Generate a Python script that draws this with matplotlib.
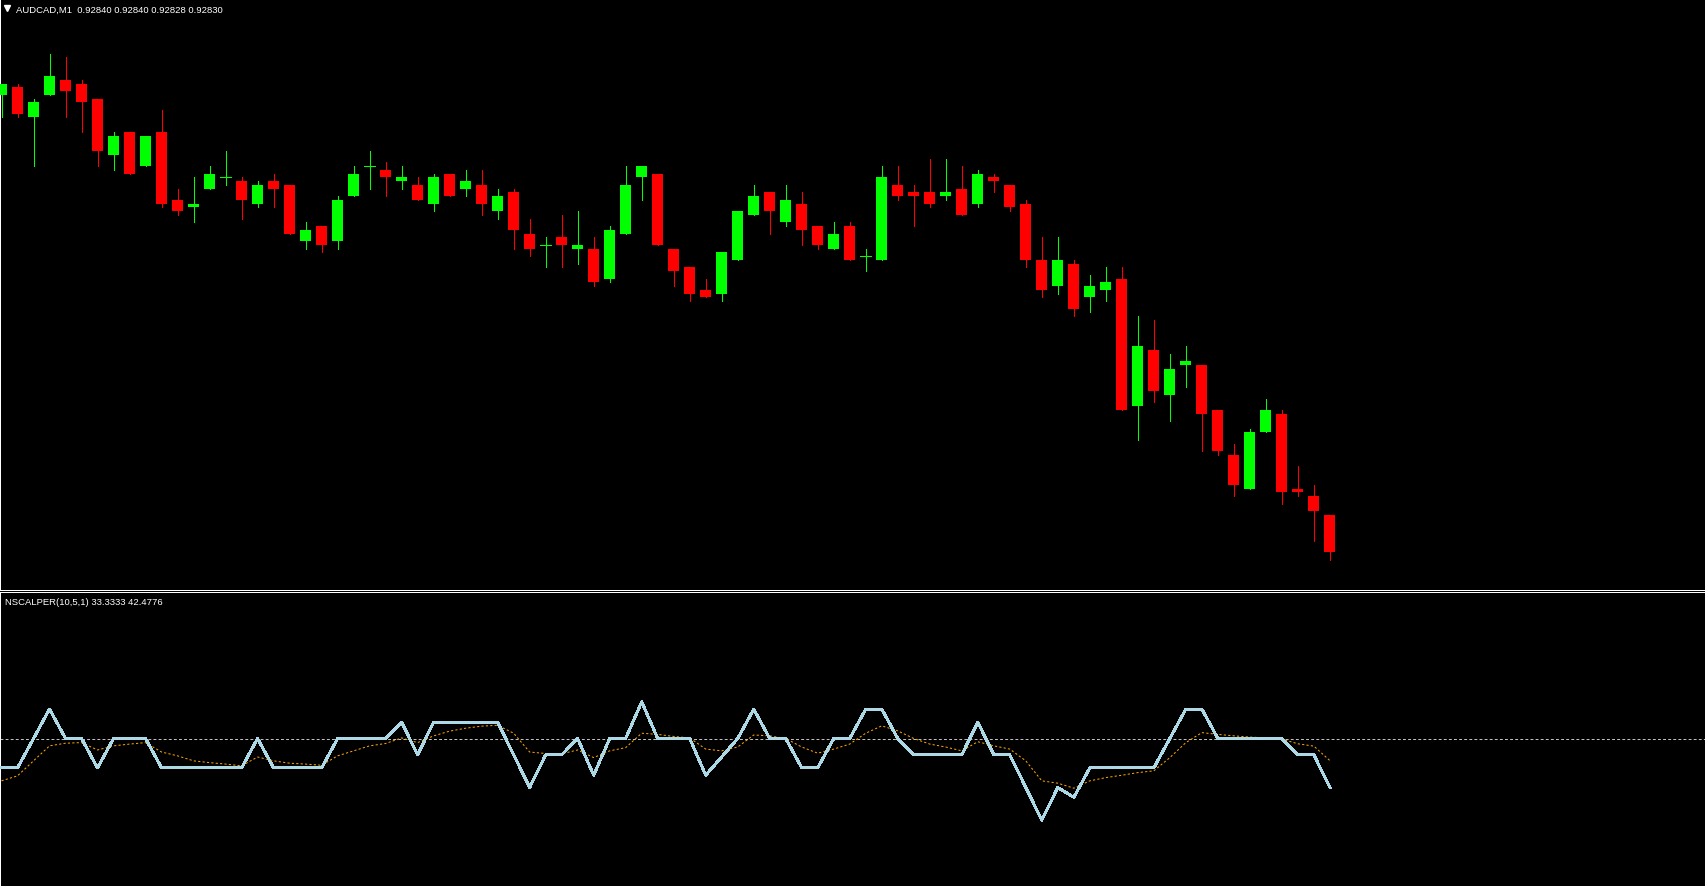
import matplotlib
matplotlib.use("Agg")
from matplotlib import pyplot as plt
from matplotlib.lines import Line2D
import numpy as np

# AUDCAD M1 candles, oldest first
opens = [0.92952, 0.92954, 0.92946, 0.92952, 0.92956, 0.92955, 0.92951, 0.92936, 0.92942, 0.92933,
         0.92942, 0.92924, 0.92922, 0.92927, 0.92930, 0.92929, 0.92923, 0.92929, 0.92928, 0.92913,
         0.92917, 0.92913, 0.92925, 0.92933, 0.92932, 0.92929, 0.92928, 0.92923, 0.92931, 0.92927,
         0.92928, 0.92921, 0.92926, 0.92915, 0.92912, 0.92914, 0.92911, 0.92911, 0.92903, 0.92915,
         0.92930, 0.92931, 0.92911, 0.92906, 0.92900, 0.92899, 0.92908, 0.92920, 0.92926, 0.92918,
         0.92923, 0.92917, 0.92911, 0.92917, 0.92909, 0.92908, 0.92928, 0.92926, 0.92926, 0.92925,
         0.92927, 0.92923, 0.92930, 0.92928, 0.92923, 0.92908, 0.92901, 0.92907, 0.92898, 0.92900,
         0.92903, 0.92869, 0.92884, 0.92872, 0.92880, 0.92880, 0.92868, 0.92856, 0.92847, 0.92862,
         0.92867, 0.92847, 0.92845, 0.92840]
highs = [0.92955, 0.92955, 0.92951, 0.92963, 0.92962, 0.92956, 0.92951, 0.92942, 0.92942, 0.92941,
         0.92948, 0.92927, 0.92930, 0.92933, 0.92937, 0.92930, 0.92929, 0.92931, 0.92928, 0.92918,
         0.92917, 0.92925, 0.92933, 0.92937, 0.92934, 0.92933, 0.92930, 0.92931, 0.92931, 0.92932,
         0.92932, 0.92927, 0.92927, 0.92919, 0.92914, 0.92920, 0.92921, 0.92914, 0.92917, 0.92933,
         0.92933, 0.92931, 0.92911, 0.92906, 0.92903, 0.92910, 0.92921, 0.92928, 0.92926, 0.92928,
         0.92926, 0.92917, 0.92918, 0.92918, 0.92911, 0.92933, 0.92933, 0.92928, 0.92935, 0.92935,
         0.92933, 0.92932, 0.92931, 0.92928, 0.92924, 0.92914, 0.92914, 0.92908, 0.92904, 0.92906,
         0.92906, 0.92893, 0.92892, 0.92883, 0.92885, 0.92880, 0.92868, 0.92859, 0.92863, 0.92871,
         0.92868, 0.92853, 0.92848, 0.92840]
lows = [0.92946, 0.92946, 0.92933, 0.92952, 0.92946, 0.92942, 0.92933, 0.92932, 0.92931, 0.92933,
        0.92922, 0.92920, 0.92918, 0.92927, 0.92928, 0.92919, 0.92922, 0.92922, 0.92915, 0.92911,
        0.92910, 0.92911, 0.92925, 0.92927, 0.92925, 0.92927, 0.92924, 0.92921, 0.92925, 0.92925,
        0.92920, 0.92919, 0.92911, 0.92909, 0.92906, 0.92906, 0.92907, 0.92901, 0.92902, 0.92915,
        0.92924, 0.92912, 0.92901, 0.92897, 0.92898, 0.92897, 0.92908, 0.92920, 0.92915, 0.92917,
        0.92912, 0.92911, 0.92911, 0.92908, 0.92905, 0.92908, 0.92924, 0.92917, 0.92922, 0.92924,
        0.92920, 0.92922, 0.92926, 0.92921, 0.92906, 0.92898, 0.92899, 0.92893, 0.92894, 0.92897,
        0.92868, 0.92860, 0.92870, 0.92865, 0.92874, 0.92857, 0.92856, 0.92845, 0.92847, 0.92862,
        0.92843, 0.92845, 0.92833, 0.92828]
closes = [0.92955, 0.92947, 0.92950, 0.92957, 0.92953, 0.92950, 0.92937, 0.92941, 0.92931, 0.92941,
          0.92923, 0.92921, 0.92923, 0.92931, 0.92930, 0.92924, 0.92928, 0.92927, 0.92915, 0.92916,
          0.92912, 0.92924, 0.92931, 0.92933, 0.92930, 0.92930, 0.92924, 0.92930, 0.92925, 0.92929,
          0.92923, 0.92925, 0.92916, 0.92911, 0.92912, 0.92912, 0.92912, 0.92902, 0.92916, 0.92928,
          0.92933, 0.92912, 0.92905, 0.92899, 0.92898, 0.92910, 0.92921, 0.92925, 0.92921, 0.92924,
          0.92916, 0.92912, 0.92915, 0.92908, 0.92909, 0.92930, 0.92925, 0.92925, 0.92923, 0.92926,
          0.92920, 0.92931, 0.92929, 0.92922, 0.92908, 0.92900, 0.92908, 0.92895, 0.92901, 0.92902,
          0.92868, 0.92885, 0.92873, 0.92879, 0.92881, 0.92867, 0.92857, 0.92848, 0.92862, 0.92868,
          0.92846, 0.92846, 0.92841, 0.92830]

# NSCALPER(10,5,1) main line and its signal line
nscalper = [40, 40, 50, 60, 50, 50, 40, 50, 50, 50,
            40, 40, 40, 40, 40, 40, 50, 40, 40, 40,
            40, 50, 50, 50, 50, 55.5556, 44.4444, 55.5556, 55.5556, 55.5556,
            55.5556, 55.5556, 44.4444, 33.3333, 44.4444, 44.4444, 50, 37.5, 50, 50,
            62.5, 50, 50, 50, 37.5, 43.75, 50, 60, 50, 50,
            40, 40, 50, 50, 60, 60, 50, 44.4444, 44.4444, 44.4444,
            44.4444, 55.5556, 44.4444, 44.4444, 33.3333, 22.2222, 33.3333, 30, 40, 40,
            40, 40, 40, 50, 60, 60, 50, 50, 50, 50,
            50, 44.4444, 44.4444, 33.3333]
signal = [35.6, 37.3, 42.4, 47.5, 48.4, 48.6, 46.1, 47.5, 48.1, 48.6,
          45.4, 44.1, 42.4, 41.8, 41.3, 40.7, 43.7, 42.4, 41.6, 41.3,
          40.9, 44.1, 45.8, 47.5, 48.3, 50.2, 48.6, 50.9, 52.5, 53.5,
          54.2, 54.5, 51.8, 45.4, 44.9, 44.8, 46.1, 43.5, 45.8, 46.9,
          51.8, 51.4, 50.7, 50.2, 46.4, 45.8, 47.1, 51.2, 50.9, 50.0,
          47.1, 45.0, 46.4, 48.1, 51.8, 54.3, 52.6, 50.0, 48.1, 47.1,
          45.8, 48.9, 47.5, 46.4, 42.4, 35.6, 34.8, 33.1, 35.6, 36.7,
          37.5, 38.4, 39.0, 43.5, 48.6, 52.0, 51.4, 50.9, 50.5, 50.2,
          49.8, 48.2, 47.4, 42.4776]
level = 50

W, H = 1706, 887
px = 0.72  # one pixel in points at dpi 100

fig = plt.figure(figsize=(W / 100, H / 100), dpi=100, facecolor="black")
ax = fig.add_axes([0.5 / W, 1 - 590.5 / H, 1, 590.5 / H])
ax2 = fig.add_axes([0.5 / W, 1 - 886.5 / H, 1, (886.5 - 592.5) / H])

x = np.arange(len(opens))
o = np.array(opens)
c = np.array(closes)
bull = c >= o
cols = np.where(bull, "#00FF00", "#FF0000")

ax.vlines(x, lows, highs, colors=cols, lw=px, antialiased=False, zorder=2)
body = np.abs(c - o)
ax.bar(x, body, bottom=np.minimum(o, c), width=11 / 16, color=cols,
       linewidth=0, antialiased=False, zorder=3)
doji = body == 0
ax.hlines(o[doji], x[doji] - 5.5 / 16, x[doji] + 5.5 / 16, colors=cols[doji],
          lw=px, antialiased=False, zorder=3)

xlim = (-1.0 / 16, (W - 1.5) / 16)
ax.set_xlim(xlim)
ax.set_ylim(0.9282008, 0.9297755)

ax2.plot(x, nscalper, color="#ADD8E6", lw=2 * px, antialiased=False, zorder=3)
ax2.plot(x, signal, color="#FFA500", lw=px, ls=(0, (2.2, 2.2)), zorder=2)
ax2.axhline(level, color="#C0C0C0", lw=px, ls=(0, (2.9, 2.2)), zorder=1)
ax2.set_xlim(xlim)
ax2.set_ylim(0, 100)

for a in (ax, ax2):
    a.set_facecolor("black")
    a.set_xticks([])
    a.set_yticks([])
    for s in a.spines.values():
        s.set_color("white")
        s.set_linewidth(px)
        s.set_antialiased(False)
    a.spines["right"].set_visible(False)
ax.spines["top"].set_visible(False)
ax2.spines["bottom"].set_visible(False)

fig.add_artist(Line2D([7.5 / W], [1 - 8.7 / H], marker="v", ms=5, color="white",
                      lw=0, transform=fig.transFigure))
head = "AUDCAD,M1  %.5f %.5f %.5f %.5f" % (opens[-1], highs[-1], lows[-1], closes[-1])
fig.text(16 / W, 1 - 12.5 / H, head, color="white", fontsize=6.8,
         family="Liberation Sans", va="baseline", ha="left")
lab = "NSCALPER(10,5,1) %.4f %.4f" % (nscalper[-1], signal[-1])
fig.text(5 / W, 1 - 605.5 / H, lab, color="white", fontsize=6.8,
         family="Liberation Sans", va="baseline", ha="left")

fig.savefig("out.png", dpi=100, facecolor="black")
